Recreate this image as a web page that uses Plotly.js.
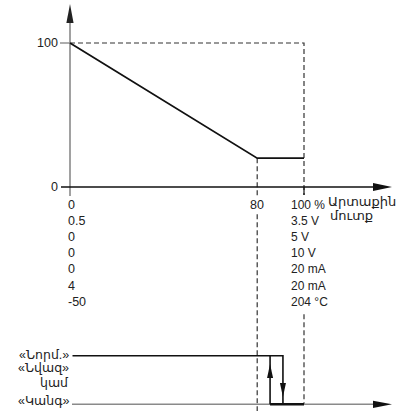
<!DOCTYPE html>
<html><head><meta charset="utf-8">
<script src="https://cdn.plot.ly/plotly-3.0.1.min.js"></script>
<style>html,body{margin:0;padding:0;background:#fff}#chart{width:413px;height:411px}</style>
</head><body><div id="chart"></div>
<script>
// ---- data ----
const xPct = [0, 80, 100];
const outPct = [100, 20, 20];
const yTickVals = [0, 100];
const xTickMid = 80;
const colLeft = ['0', '0.5', '0', '0', '0', '4', '-50'];
const colRight = ['100 %', '3.5 V', '5 V', '10 V', '20 mA', '20 mA', '204 °C'];
const xTitle = ['Արտաքին', 'մուտք'];
const stateLabels = ['«Նորմ.»', '«Նվազ»', 'կամ', '«Կանգ»'];
const switchOff = 91;    // output goes to "stop" rising
const switchOn = 85.5;   // output returns to "normal" falling
const stateHigh = 1, stateLow = 0;

// ---- geometry (pixels) ----
const W = 413, H = 411;
const X0 = 70, KX = 2.34;          // px of x=0, px per %
const Y0 = 187, KY = 1.44;         // px of y=0, px per %
const S0 = 404.3, KS = 48.6;       // px of state 0, px per state unit
const pxX = v => X0 + v * KX;
const pxY = v => Y0 - v * KY;
const pxS = v => S0 - v * KS;
const dX = p => (p - X0) / KX;
const dY = p => (Y0 - p) / KY;
const dS = p => (S0 - p) / KS;
const P = (x, y) => (x / W).toFixed(5) + ',' + (1 - y / H).toFixed(5);

const FONT = 'Liberation Sans, Arial, DejaVu Sans, sans-serif';
const TXT = '#222';
const GRAY = '#8a8a8a';
const DASH = '5px,3px';

function tri(tx, ty, dir, len, hw, color) {
  let pts;
  if (dir === 'up') pts = [[tx, ty], [tx - hw, ty + len], [tx + hw, ty + len]];
  else if (dir === 'down') pts = [[tx, ty], [tx - hw, ty - len], [tx + hw, ty - len]];
  else pts = [[tx, ty], [tx - len, ty - hw], [tx - len, ty + hw]];
  return {type: 'path', xref: 'paper', yref: 'paper',
    path: 'M' + pts.map(p => P(p[0], p[1])).join('L') + 'Z',
    fillcolor: color, line: {width: 0}};
}

const traces = [];
// dashed reference lines
traces.push({x: [xPct[0], xPct[2], xPct[2]], y: [outPct[0], outPct[0], dY(195)], mode: 'lines',
  line: {color: '#333', width: 1.2, dash: DASH}, hoverinfo: 'skip'});
traces.push({x: [xPct[1], xPct[1]], y: [outPct[1], dY(H)], mode: 'lines',
  line: {color: '#333', width: 1.2, dash: DASH}, hoverinfo: 'skip'});
traces.push({x: [xPct[2], xPct[2]], y: [dS(pxS(stateLow) - 90), stateLow], yaxis: 'y2', mode: 'lines',
  line: {color: '#333', width: 1.2, dash: DASH}, hoverinfo: 'skip'});
// axes lines
traces.push({x: [0, 0], y: [dY(22), dY(196)], mode: 'lines', line: {color: GRAY, width: 1.6}, hoverinfo: 'skip'});
traces.push({x: [dX(60), 0], y: [100, 100], mode: 'lines', line: {color: GRAY, width: 1.4}, hoverinfo: 'skip'});
traces.push({x: [dX(61), dX(376)], y: [0, 0], mode: 'lines', line: {color: '#111', width: 1.5}, hoverinfo: 'skip'});
traces.push({x: [xPct[2], xPct[2]], y: [0, dY(195)], mode: 'lines', line: {color: '#111', width: 1.2}, hoverinfo: 'skip'});
traces.push({x: [dX(72), dX(376)], y: [stateLow, stateLow], yaxis: 'y2', mode: 'lines', line: {color: GRAY, width: 1.6}, hoverinfo: 'skip'});
// main output line
traces.push({x: xPct, y: outPct, mode: 'lines', line: {color: '#111', width: 1.8}, hoverinfo: 'skip'});
// state lines
traces.push({x: [dX(72.5), switchOff, switchOff], y: [stateHigh, stateHigh, stateLow], yaxis: 'y2', mode: 'lines',
  line: {color: '#111', width: 1.6}, hoverinfo: 'skip'});
traces.push({x: [switchOn, switchOn], y: [stateLow, stateHigh], yaxis: 'y2', mode: 'lines',
  line: {color: '#111', width: 1.6}, hoverinfo: 'skip'});
traces.push({x: [switchOn, xPct[2]], y: [stateLow, stateLow], yaxis: 'y2', mode: 'lines',
  line: {color: '#111', width: 2.6}, hoverinfo: 'skip'});

const shapes = [
  tri(pxX(0), 4, 'up', 19, 3.6, '#222'),
  tri(392, pxY(0), 'right', 19, 4, '#111'),
  tri(392, pxS(stateLow), 'right', 19, 3.6, '#111'),
  tri(pxX(switchOn), 364, 'up', 14, 3, '#111'),
  tri(pxX(switchOff), 397, 'down', 14, 3, '#111')
];

const ann = [];
const base = {showarrow: false, borderpad: 0, font: {family: FONT, size: 12.5, color: TXT}};
ann.push(Object.assign({}, base, {text: String(yTickVals[1]), xref: 'x', yref: 'y', x: dX(59), y: yTickVals[1], xanchor: 'right', yanchor: 'middle'}));
ann.push(Object.assign({}, base, {text: String(yTickVals[0]), xref: 'x', yref: 'y', x: dX(59), y: yTickVals[0], xanchor: 'right', yanchor: 'middle'}));
for (let i = 0; i < colLeft.length; i++) {
  const py = 205 + i * 16.1;
  ann.push(Object.assign({}, base, {text: colLeft[i], xref: 'x', yref: 'y', x: dX(66.5), y: dY(py), xanchor: 'left', yanchor: 'middle'}));
  ann.push(Object.assign({}, base, {text: colRight[i], xref: 'x', yref: 'y', x: dX(290), y: dY(py), xanchor: 'left', yanchor: 'middle', font: {family: FONT, size: 12, color: TXT}}));
}
ann.push(Object.assign({}, base, {text: String(xTickMid), xref: 'x', yref: 'y', x: xTickMid, y: dY(205), xanchor: 'center', yanchor: 'middle', bgcolor: '#fff', borderpad: 1}));
ann.push(Object.assign({}, base, {text: xTitle[0], xref: 'x', yref: 'y', x: dX(327), y: dY(201.5), xanchor: 'left', yanchor: 'middle', font: {family: FONT, size: 13, color: TXT}}));
ann.push(Object.assign({}, base, {text: xTitle[1], xref: 'x', yref: 'y', x: dX(329), y: dY(215.5), xanchor: 'left', yanchor: 'middle', font: {family: FONT, size: 13, color: TXT}}));
const stY = [354.5, 368, 382.5, 400.5];
for (let i = 0; i < stateLabels.length; i++) {
  ann.push(Object.assign({}, base, {text: stateLabels[i], xref: 'x', yref: 'y2', x: dX(70), y: dS(stY[i]), xanchor: 'right', yanchor: 'middle', font: {family: FONT, size: 12.5, color: TXT}}));
}

const layout = {
  width: W, height: H, margin: {l: 0, r: 0, t: 0, b: 0},
  paper_bgcolor: '#fff', plot_bgcolor: '#fff', showlegend: false,
  xaxis: {range: [dX(0), dX(W)], visible: false, fixedrange: true},
  yaxis: {range: [dY(H), dY(0)], visible: false, fixedrange: true},
  yaxis2: {range: [dS(H), dS(0)], visible: false, overlaying: 'y', fixedrange: true},
  shapes: shapes, annotations: ann
};
Plotly.newPlot('chart', traces, layout, {staticPlot: true, displayModeBar: false});
</script></body></html>
